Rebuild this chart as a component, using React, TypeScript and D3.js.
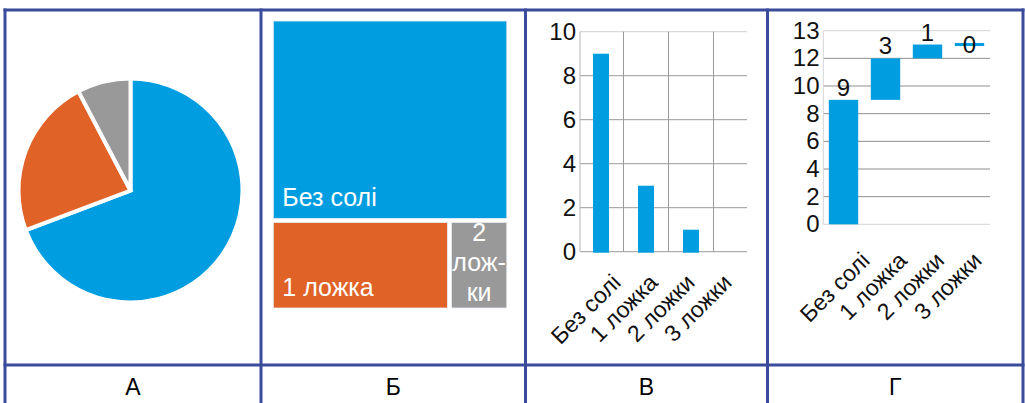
import React, { useEffect, useRef } from "react";
import * as d3 from "d3";

// data shared by all four panels
const categories = ["Без солі", "1 ложка", "2 ложки", "3 ложки"];
const values = [9, 3, 1, 0];
const treemapLabels = [["Без солі"], ["1 ложка"], ["2", "лож-", "ки"], ["3 ложки"]];
const panelLetters = ["А", "Б", "В", "Г"];
const barTicks = [0, 2, 4, 6, 8, 10];
const waterfallTicks = [0, 2, 4, 6, 8, 10, 12, 14];
const waterfallTickLabels = ["0", "2", "4", "6", "8", "10", "12", "13"];

const sliceColors = ["#009ee0", "#e06227", "#999999", "#5b9bd5"];
const BLUE = "#009ee0";
const BORDER = "#3b4b9b";
const FONT = "'Liberation Sans', Arial, sans-serif";

const W = 1025;
const H = 403;
const colEdges = [5, 261, 525.5, 767.5, 1023];
const rowEdges = [10, 365];

const App = () => {
  const ref = useRef<SVGSVGElement>(null);

  useEffect(() => {
    const svg = d3.select(ref.current);
    svg.selectAll("*").remove();

    // ---- А: pie ----
    const pie = d3.pie<number>().sort(null).value((d) => d);
    const arc = d3.arc<d3.PieArcDatum<number>>().innerRadius(0).outerRadius(112);
    const pieG = svg.append("g").attr("transform", "translate(130.5,190.5)");
    pieG
      .selectAll("path")
      .data(pie(values).filter((d) => d.value > 0))
      .join("path")
      .attr("d", arc)
      .attr("fill", (d) => sliceColors[d.index])
      .attr("stroke", "#fff")
      .attr("stroke-width", 4);

    // ---- Б: treemap ----
    const root = d3
      .hierarchy({ children: values.map((v, i) => ({ v, i })) } as any)
      .sum((d: any) => d.v || 0);
    d3.treemap().tile(d3.treemapSquarify).size([233.5, 287]).paddingInner(4)(root as any);
    const tmG = svg.append("g").attr("transform", "translate(273.3,21)");
    const leaves = (root.leaves() as any[]).filter((d) => d.value > 0);
    tmG
      .selectAll("rect")
      .data(leaves)
      .join("rect")
      .attr("x", (d) => d.x0)
      .attr("y", (d) => d.y0)
      .attr("width", (d) => d.x1 - d.x0)
      .attr("height", (d) => d.y1 - d.y0)
      .attr("fill", (d) => sliceColors[d.data.i])
      .attr("stroke", "#e8eef4")
      .attr("stroke-width", 0.8);
    leaves.forEach((d) => {
      const lines = treemapLabels[d.data.i];
      if (lines.length === 1) {
        tmG.append("text")
          .attr("x", d.x0 + 9)
          .attr("y", d.y1 - 12)
          .attr("fill", "#fff")
          .attr("font-size", 25)
          .attr("font-family", FONT)
          .text(lines[0]);
      } else {
        lines.forEach((ln, k) => {
          tmG.append("text")
            .attr("x", (d.x0 + d.x1) / 2)
            .attr("y", d.y0 + 19 + k * 30)
            .attr("text-anchor", "middle")
            .attr("fill", "#fff")
            .attr("font-size", 25)
            .attr("font-family", FONT)
            .text(ln);
        });
      }
    });

    // ---- В: column chart ----
    const bx = d3.scaleBand(categories, [578.5, 758.5]).paddingInner(0.644).paddingOuter(0.322);
    const by = d3.scaleLinear([0, 10], [251.7, 31.7]);
    const bG = svg.append("g");
    bG.selectAll("line.h")
      .data(barTicks)
      .join("line")
      .attr("x1", 580)
      .attr("x2", 747)
      .attr("y1", (d) => by(d))
      .attr("y2", (d) => by(d))
      .attr("stroke", (d) => (d === 10 ? "#cfcfcf" : "#9a9a9a"))
      .attr("stroke-width", 1);
    const bounds = categories.map((c) => (bx(c) as number) - (bx.step() - bx.bandwidth()) / 2);
    bG.selectAll("line.v")
      .data(bounds)
      .join("line")
      .attr("x1", (d, i) => (i === 0 ? 580 : d))
      .attr("x2", (d, i) => (i === 0 ? 580 : d))
      .attr("y1", by(0))
      .attr("y2", by(10))
      .attr("stroke", (d, i) => (i === 0 ? "#b5b5b5" : "#9a9a9a"))
      .attr("stroke-width", 1);
    bG.selectAll("rect")
      .data(values.map((v, i) => ({ v, c: categories[i] })).filter((d) => d.v > 0))
      .join("rect")
      .attr("x", (d) => bx(d.c) as number)
      .attr("width", bx.bandwidth())
      .attr("y", (d) => by(d.v))
      .attr("height", (d) => by(0) - by(d.v) + 1)
      .attr("fill", BLUE);
    bG.selectAll("text.tick")
      .data(barTicks)
      .join("text")
      .attr("x", 576)
      .attr("y", (d) => by(d))
      .attr("dy", "0.33em")
      .attr("text-anchor", "end")
      .attr("font-size", 24)
      .attr("font-family", FONT)
      .attr("fill", "#111")
      .text((d) => d);
    const bLabelX = d3.scalePoint(categories, [622, 733]);
    bG.selectAll("text.cat")
      .data(categories)
      .join("text")
      .attr("transform", (d) => `translate(${bLabelX(d)},284) rotate(-45)`)
      .attr("text-anchor", "end")
      .attr("font-size", 23)
      .attr("font-family", FONT)
      .attr("fill", "#111")
      .text((d) => d);

    // ---- Г: waterfall ----
    const wx = d3.scaleBand(categories, [822.5, 990.5]).paddingInner(0.3).paddingOuter(0.15);
    const wy = d3.scaleLinear([0, 14], [224.3, 30.7]);
    const starts = values.map((_, i) => d3.sum(values.slice(0, i)));
    const wG = svg.append("g");
    wG.selectAll("line.h")
      .data(waterfallTicks)
      .join("line")
      .attr("x1", 823.3)
      .attr("x2", 990)
      .attr("y1", (d) => wy(d))
      .attr("y2", (d) => wy(d))
      .attr("stroke", (d) => (d === 0 || d === 14 ? "#d4d4d4" : "#8f8f8f"))
      .attr("stroke-width", 1);
    wG.append("line")
      .attr("x1", 823.3)
      .attr("x2", 823.3)
      .attr("y1", wy(0))
      .attr("y2", wy(14))
      .attr("stroke", "#d4d4d4");
    wG.selectAll("rect")
      .data(values)
      .join("rect")
      .attr("x", (d, i) => wx(categories[i]) as number)
      .attr("width", wx.bandwidth())
      .attr("y", (d, i) => (d === 0 ? wy(starts[i]) - 1.5 : wy(starts[i] + d)))
      .attr("height", (d, i) => (d === 0 ? 3 : wy(starts[i]) - wy(starts[i] + d)))
      .attr("fill", BLUE);
    wG.selectAll("text.val")
      .data(values)
      .join("text")
      .attr("x", (d, i) => (wx(categories[i]) as number) + wx.bandwidth() / 2)
      .attr("y", (d, i) => (d === 0 ? wy(starts[i]) : wy(starts[i] + d) - 4))
      .attr("dy", (d) => (d === 0 ? "0.35em" : 0))
      .attr("text-anchor", "middle")
      .attr("font-size", 24)
      .attr("font-family", FONT)
      .attr("fill", "#111")
      .text((d) => d);
    wG.selectAll("text.tick")
      .data(waterfallTicks)
      .join("text")
      .attr("x", 819.5)
      .attr("y", (d) => wy(d))
      .attr("dy", "0.33em")
      .attr("text-anchor", "end")
      .attr("font-size", 24)
      .attr("font-family", FONT)
      .attr("fill", "#111")
      .text((d, i) => waterfallTickLabels[i]);
    const wLabelX = d3.scalePoint(categories, [871, 983]);
    wG.selectAll("text.cat")
      .data(categories)
      .join("text")
      .attr("transform", (d) => `translate(${wLabelX(d)},262) rotate(-45)`)
      .attr("text-anchor", "end")
      .attr("font-size", 23)
      .attr("font-family", FONT)
      .attr("fill", "#111")
      .text((d) => d);

    // ---- table grid and panel letters ----
    const grid = svg.append("g").attr("stroke", BORDER).attr("stroke-width", 3);
    rowEdges.forEach((y) => {
      grid.append("line").attr("x1", colEdges[0] - 1.5).attr("x2", colEdges[4] + 1.5).attr("y1", y).attr("y2", y);
    });
    colEdges.forEach((x) => {
      grid.append("line").attr("x1", x).attr("x2", x).attr("y1", rowEdges[0] - 1.5).attr("y2", H + 5);
    });
    svg.selectAll("text.letter")
      .data(panelLetters)
      .join("text")
      .attr("x", (d, i) => (colEdges[i] + colEdges[i + 1]) / 2)
      .attr("y", 395)
      .attr("text-anchor", "middle")
      .attr("font-size", 23)
      .attr("font-family", FONT)
      .attr("fill", "#000")
      .text((d) => d);
  }, []);

  return (
    <svg
      ref={ref}
      width={W}
      height={H}
      style={{ position: "absolute", left: 0, top: 0, display: "block", background: "#fff" }}
    />
  );
};

export default App;
